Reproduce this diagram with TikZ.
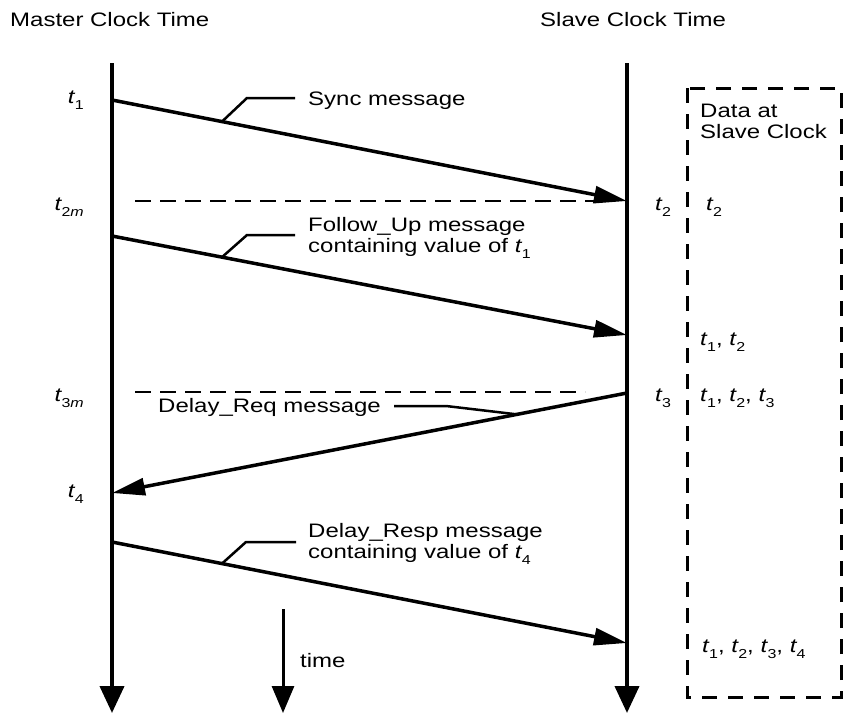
\documentclass[tikz,border=0pt]{standalone}
\usepackage{fontspec}
\setmainfont{Liberation Sans}[FakeStretch=1.23]
\usetikzlibrary{arrows.meta,calc}
\newcommand{\tsb}[1]{{\itshape t\kern0.3pt\raisebox{-6pt}{\upshape\fontsize{13}{13}\selectfont #1}}}
\begin{document}
\begin{tikzpicture}[x=1pt,y=-1pt,
  every node/.style={font=\fontsize{19.5}{21}\selectfont, inner sep=0pt, text=black},
  lbl/.style={anchor=base west},
  tlbl/.style={anchor=base east},
  life/.style={line width=4pt, -{Triangle[length=27pt,width=24pt]}},
  timearrow/.style={line width=3pt, -{Triangle[length=27pt,width=22pt]}},
  msg/.style={line width=3.5pt, -{Triangle[length=33pt,width=17pt]}},
  leader/.style={line width=2.5pt},
  guide/.style={line width=2.5pt, dash pattern=on 16pt off 9pt},
  databox/.style={line width=3pt, dash pattern=on 15pt off 11pt}]
\useasboundingbox (0,0) rectangle (857,720);
% lifelines
\coordinate (mtop) at (112,63);
\coordinate (mbot) at (112,713);
\coordinate (stop) at (627,63);
\coordinate (sbot) at (627,713);
\draw[life] (mtop) -- (mbot);
\draw[life] (stop) -- (sbot);
% time arrow
\coordinate (ttop) at (283,609);
\coordinate (tbot) at (283,713);
\draw[timearrow] (ttop) -- (tbot);
% message end points
\coordinate (m1) at (112,100);
\coordinate (s2) at (627,201);
\coordinate (m2) at (112,236);
\coordinate (s2b) at (627,335);
\coordinate (s3) at (627,393);
\coordinate (m4) at (112,493);
\coordinate (m5) at (112,542);
\coordinate (s5) at (627,643);
% guide dashed lines
\coordinate (g2a) at (135,201);
\coordinate (g2b) at (600,201);
\coordinate (g3a) at (135,392);
\coordinate (g3b) at (585,392);
\draw[guide] (g2a) -- (g2b);
\draw[guide] (g3a) -- (g3b);
% messages
\draw[msg] (m1) -- (s2);
\draw[msg] (m2) -- (s2b);
\draw[msg] (s3) -- (m4);
\draw[msg] (m5) -- (s5);
% labels
\node[lbl] (mct) at (10,27) {Master Clock Time};
\node[lbl] (sct) at (540,27) {Slave Clock Time};
\node[lbl] (syncl) at (308,105) {Sync message};
\node[lbl] (fu1) at (308,231) {Follow\_Up message};
\node[lbl] (fu2) at (308,252) {containing value of \tsb{1}};
\node[lbl] (dreq) at (158,412) {Delay\_Req message};
\node[lbl] (dr1) at (308,537) {Delay\_Resp message};
\node[lbl] (dr2) at (308,558) {containing value of \tsb{4}};
\node[lbl] (timel) at (300,667) {time};
% leaders
\coordinate (sf) at ($(m1)!0.2136!(s2)$);
\coordinate (sc) at (247,98);
\coordinate (se) at (295,98);
\draw[leader] (sf) -- (sc) -- (se);
\coordinate (ff) at ($(m2)!0.2136!(s2b)$);
\coordinate (fc) at (247,235);
\coordinate (fe) at (295,235);
\draw[leader] (ff) -- (fc) -- (fe);
\coordinate (rf) at ($(m5)!0.2136!(s5)$);
\coordinate (rc) at (246,542);
\coordinate (re) at (296,542);
\draw[leader] (rf) -- (rc) -- (re);
\coordinate (qf) at ($(s3)!0.2136!(m4)$);
\coordinate (qc) at (446,406);
\coordinate (qe) at (394,406);
\draw[leader] (qe) -- (qc) -- (qf);
% master time labels
\node[tlbl] (lt1) at (84,103) {\tsb{1}};
\node[tlbl] (lt2m) at (84,210) {\tsb{2\textit{m}}};
\node[tlbl] (lt3m) at (84,401) {\tsb{3\textit{m}}};
\node[tlbl] (lt4) at (84,497) {\tsb{4}};
% slave time labels
\node[lbl] (lt2) at (655,210) {\tsb{2}};
\node[lbl] (lt3) at (655,401) {\tsb{3}};
% data box
\coordinate (bx1) at (687,88);
\coordinate (bx2) at (841,697);
\draw[databox] (bx1) rectangle (bx2);
\node[lbl] (d1) at (700,117) {Data at};
\node[lbl] (d2) at (700,138) {Slave Clock};
\node[lbl] (b2) at (706,210) {\tsb{2}};
\node[lbl] (b12) at (700,345) {\tsb{1}, \tsb{2}};
\node[lbl] (b123) at (700,401) {\tsb{1}, \tsb{2}, \tsb{3}};
\node[lbl] (b1234) at (702,652) {\tsb{1}, \tsb{2}, \tsb{3}, \tsb{4}};
\end{tikzpicture}
\end{document}
